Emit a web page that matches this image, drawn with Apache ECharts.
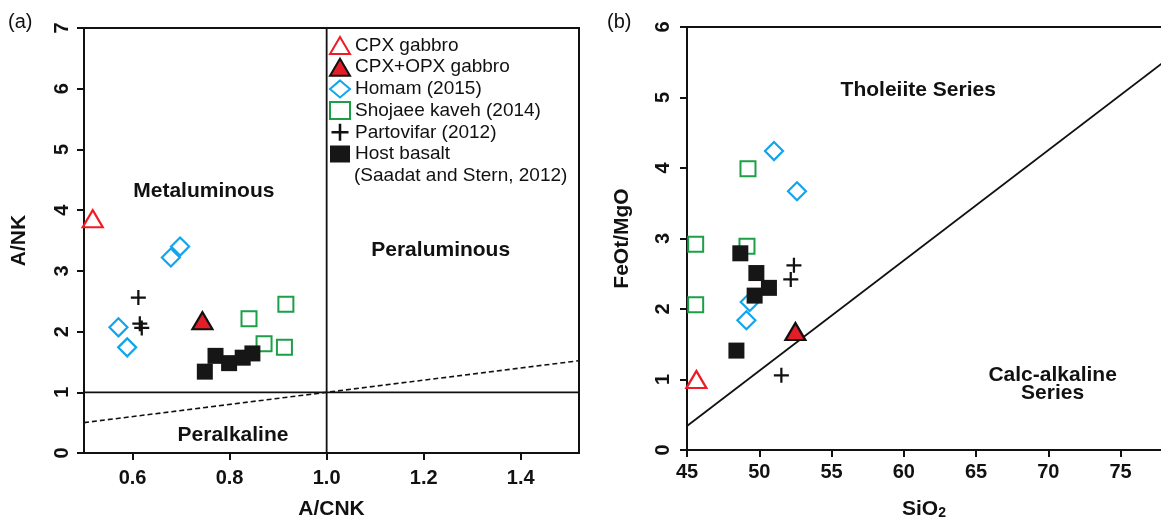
<!DOCTYPE html>
<html>
<head>
<meta charset="utf-8">
<script src="https://cdn.jsdelivr.net/npm/echarts@6/dist/echarts.min.js"></script>
<style>
  html, body { margin: 0; padding: 0; background: #ffffff; }
  #chart { width: 1161px; height: 525px; }
</style>
</head>
<body>
<div id="chart"></div>
<script>
// ---------- Panel (a): A/NK vs A/CNK ----------
const aCpx        = [[0.518, 3.86]];
const aCpxOpx     = [[0.744, 2.18]];
const aHomam      = [[0.571, 2.07], [0.589, 1.74], [0.679, 3.22], [0.698, 3.40]];
const aShojaee    = [[0.840, 2.21], [0.916, 2.45], [0.871, 1.80], [0.913, 1.74]];
const aPartovifar = [[0.612, 2.56], [0.615, 2.13], [0.619, 2.06]];
const aHost       = [[0.749, 1.34], [0.771, 1.60], [0.799, 1.48], [0.827, 1.57], [0.847, 1.64]];
const aXTicks     = [0.6, 0.8, 1.0, 1.2, 1.4];

// field boundaries (A/NK = A/CNK dashed, A/NK = 1, A/CNK = 1)
const aEqualLine  = [[0.5, 0.5], [1.52, 1.52]];
const aNkOne      = [[0.5, 1], [1.52, 1]];
const aCnkOne     = [[1, 0], [1, 7]];
const aFields     = [
  { name: 'Metaluminous', value: [0.747, 4.32] },
  { name: 'Peraluminous', value: [1.235, 3.34] },
  { name: 'Peralkaline',  value: [0.807, 0.30] }
];

// ---------- Panel (b): FeOt/MgO vs SiO2 ----------
const bCpx        = [[45.65, 1.00]];
const bCpxOpx     = [[52.50, 1.68]];
const bHomam      = [[51.02, 4.24], [52.61, 3.67], [49.34, 2.10], [49.11, 1.84]];
const bShojaee    = [[45.60, 2.92], [45.60, 2.06], [49.22, 3.99], [49.15, 2.89]];
const bPartovifar = [[52.40, 2.62], [52.18, 2.42], [51.53, 1.06]];
const bHost       = [[48.69, 2.79], [49.80, 2.51], [50.67, 2.30], [49.68, 2.19], [48.42, 1.41]];
const bXTicks     = [45, 50, 55, 60, 65, 70, 75];

// tholeiitic / calc-alkaline divide
const bDivide     = [[45, 0.34], [79, 5.66]];
const bFields     = [
  { name: 'Tholeiite Series',        value: [61.0, 5.11] },
  { name: 'Calc-alkaline\nSeries',   value: [70.3, 0.93] }
];

const names = ['CPX gabbro', 'CPX+OPX gabbro', 'Homam (2015)',
               'Shojaee kaveh (2014)', 'Partovifar (2012)', 'Host basalt'];

const FONT = 'Liberation Sans, Arial, Helvetica, sans-serif';
const INK = '#111111';
const PLUS = 'path://M4.25,0H5.75V4.25H10V5.75H5.75V10H4.25V5.75H0V4.25H4.25Z';

const markerStyles = [
  { symbol: 'triangle', symbolSize: [20, 17], itemStyle: { color: 'rgba(255,255,255,0)', borderColor: '#ee1c25', borderWidth: 2.2, opacity: 1 } },
  { symbol: 'triangle', symbolSize: [20, 17], itemStyle: { color: '#e41e28', borderColor: INK, borderWidth: 2.2, opacity: 1 } },
  { symbol: 'diamond',  symbolSize: [18, 18], symbolKeepAspect: true, itemStyle: { color: 'rgba(255,255,255,0)', borderColor: '#12a5ec', borderWidth: 2.2, opacity: 1 } },
  { symbol: 'rect',     symbolSize: [15, 15], symbolKeepAspect: true, itemStyle: { color: 'rgba(255,255,255,0)', borderColor: '#1d9f48', borderWidth: 2, opacity: 1 } },
  { symbol: PLUS,       symbolSize: [15, 15], symbolKeepAspect: true, itemStyle: { color: INK, opacity: 1 } },
  { symbol: 'rect',     symbolSize: [16, 16], symbolKeepAspect: true, itemStyle: { color: '#161616', opacity: 1 } }
];

function pointSeries(xIdx, yIdx, sets) {
  return sets.map((d, i) => Object.assign({
    name: names[i], type: 'scatter', data: d,
    xAxisIndex: xIdx, yAxisIndex: yIdx, z: 5,
    emphasis: { disabled: true }
  }, markerStyles[i]));
}

function boundary(xIdx, yIdx, data, dashed) {
  return {
    type: 'line', data: data, xAxisIndex: xIdx, yAxisIndex: yIdx,
    symbol: 'none', silent: true, z: 2, clip: true,
    lineStyle: { color: INK, width: dashed ? 1.6 : 1.8, type: dashed ? [5, 3] : 'solid', opacity: 1 }
  };
}

function fieldLabels(xIdx, yIdx, data) {
  return {
    type: 'scatter', data: data, xAxisIndex: xIdx, yAxisIndex: yIdx,
    symbolSize: 1, itemStyle: { color: 'rgba(0,0,0,0)', opacity: 1 }, silent: true, z: 4,
    label: {
      show: true, position: 'inside', formatter: '{b}', align: 'center', opacity: 1,
      fontFamily: FONT, fontWeight: 'bold', fontSize: 21, lineHeight: 18, color: INK
    }
  };
}

const tickLabel = { fontFamily: FONT, fontWeight: 'bold', fontSize: 20, color: INK };
const axisName  = { fontFamily: FONT, fontWeight: 'bold', fontSize: 21, color: INK };
const axisLine  = { show: true, onZero: false, lineStyle: { color: INK, width: 2 } };
const axisTick  = { show: true, inside: false, length: 7, lineStyle: { color: INK, width: 2 } };

const option = {
  animation: false,
  backgroundColor: '#ffffff',
  grid: [
    { left: 84,  top: 28, width: 495, height: 429.5, show: true, borderColor: INK, borderWidth: 2, backgroundColor: 'transparent' },
    { left: 687, top: 27, width: 474, height: 423.7, show: false }
  ],
  xAxis: [
    {
      gridIndex: 0, type: 'value', min: 0.5, max: 1.52,
      axisLine: axisLine,
      axisTick: Object.assign({ customValues: aXTicks }, axisTick),
      axisLabel: Object.assign({ customValues: aXTicks, margin: 15, formatter: v => v.toFixed(1) }, tickLabel),
      splitLine: { show: false },
      name: 'A/CNK', nameLocation: 'middle', nameGap: 46, nameTextStyle: axisName
    },
    {
      gridIndex: 1, type: 'value', min: 45, max: 77.8,
      axisLine: axisLine,
      axisTick: Object.assign({ customValues: bXTicks }, axisTick),
      axisLabel: Object.assign({ customValues: bXTicks, margin: 12 }, tickLabel),
      splitLine: { show: false },
      name: '{m|SiO}{s|2}', nameLocation: 'middle', nameGap: 48,
      nameTextStyle: Object.assign({}, axisName, {
        rich: {
          m: { fontFamily: FONT, fontWeight: 'bold', fontSize: 21, color: INK },
          s: { fontFamily: FONT, fontWeight: 'bold', fontSize: 14, color: INK, verticalAlign: 'bottom', padding: [8, 0, 0, 0] }
        }
      })
    },
    {
      // frame line along the top of panel (b)
      gridIndex: 1, type: 'value', min: 45, max: 77.8, position: 'top',
      axisLine: axisLine, axisTick: { show: false }, axisLabel: { show: false },
      splitLine: { show: false }
    }
  ],
  yAxis: [
    {
      gridIndex: 0, type: 'value', min: 0, max: 7, interval: 1,
      axisLine: axisLine, axisTick: axisTick,
      axisLabel: Object.assign({ rotate: 90, margin: 12 }, tickLabel),
      splitLine: { show: false },
      name: 'A/NK', nameLocation: 'middle', nameGap: 54, nameTextStyle: axisName
    },
    {
      gridIndex: 1, type: 'value', min: 0, max: 6, interval: 1,
      axisLine: axisLine, axisTick: axisTick,
      axisLabel: Object.assign({ rotate: 90, margin: 14 }, tickLabel),
      splitLine: { show: false },
      name: 'FeOt/MgO', nameLocation: 'middle', nameGap: 54, nameTextStyle: axisName
    }
  ],
  legend: {
    data: names, orient: 'vertical', left: 329, top: 36, padding: 0,
    itemWidth: 20, itemHeight: 17, itemGap: 2.7,
    selectedMode: false,
    textStyle: { fontFamily: FONT, fontSize: 19, color: INK }
  },
  graphic: [
    { type: 'text', left: 354, top: 166, silent: true,
      style: { text: '(Saadat and Stern, 2012)', font: '19px ' + FONT, fill: INK } },
    { type: 'text', left: 8, top: 12, silent: true,
      style: { text: '(a)', font: '20px ' + FONT, fill: INK } },
    { type: 'text', left: 607, top: 12, silent: true,
      style: { text: '(b)', font: '20px ' + FONT, fill: INK } }
  ],
  series: [
    boundary(0, 0, aEqualLine, true),
    boundary(0, 0, aNkOne, false),
    boundary(0, 0, aCnkOne, false),
    fieldLabels(0, 0, aFields),
    ...pointSeries(0, 0, [aCpx, aCpxOpx, aHomam, aShojaee, aPartovifar, aHost]),
    boundary(1, 1, bDivide, false),
    fieldLabels(1, 1, bFields),
    ...pointSeries(1, 1, [bCpx, bCpxOpx, bHomam, bShojaee, bPartovifar, bHost])
  ]
};

const chart = echarts.init(document.getElementById('chart'), null, { renderer: 'canvas' });
chart.setOption(option);
</script>
</body>
</html>
